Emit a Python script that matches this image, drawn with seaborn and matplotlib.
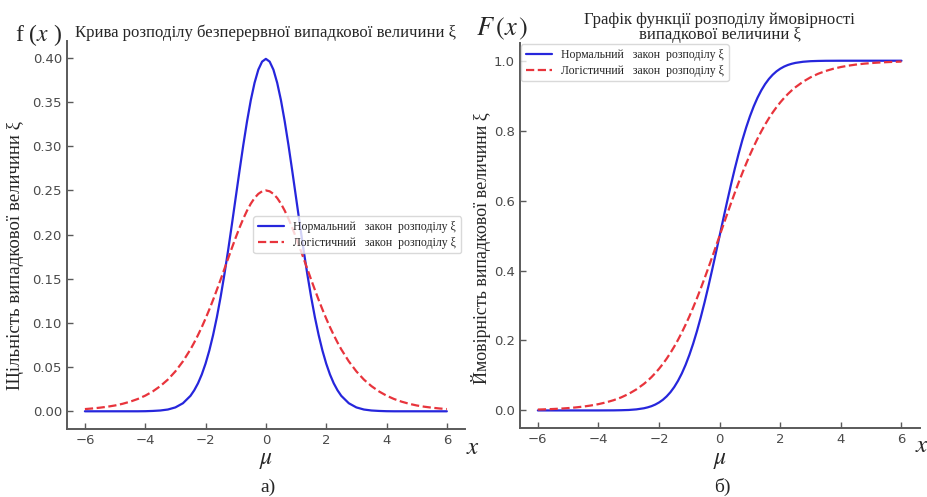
import numpy as np
import pandas as pd
import matplotlib
matplotlib.use("Agg")
import matplotlib.pyplot as plt
import seaborn as sns

# x grid: 0.25 steps in the tails, 0.125 steps in the centre
x_vals = [-6.0, -5.75, -5.5, -5.25, -5.0, -4.75, -4.5, -4.25, -4.0, -3.75, -3.5, -3.25,
          -3.0, -2.75, -2.5,
          -2.375, -2.25, -2.125, -2.0, -1.875, -1.75, -1.625, -1.5, -1.375, -1.25, -1.125,
          -1.0, -0.875, -0.75, -0.625, -0.5, -0.375, -0.25, -0.125,
          0.0,
          0.125, 0.25, 0.375, 0.5, 0.625, 0.75, 0.875, 1.0,
          1.125, 1.25, 1.375, 1.5, 1.625, 1.75, 1.875, 2.0, 2.125, 2.25, 2.375,
          2.5, 2.75, 3.0, 3.25, 3.5, 3.75, 4.0, 4.25, 4.5, 4.75, 5.0, 5.25, 5.5, 5.75, 6.0]

normal_pdf = [0.0, 0.0, 0.0, 0.0, 0.0, 0.0, 0.0, 0.0, 0.0001, 0.0004, 0.0009, 0.0020,
              0.0044, 0.0091, 0.0175,
              0.0238, 0.0317, 0.0417, 0.0540, 0.0688, 0.0863, 0.1065, 0.1295, 0.1550, 0.1826, 0.2119,
              0.2420, 0.2720, 0.3011, 0.3281, 0.3521, 0.3718, 0.3867, 0.3958,
              0.3989,
              0.3958, 0.3867, 0.3718, 0.3521, 0.3281, 0.3011, 0.2720, 0.2420,
              0.2119, 0.1826, 0.1550, 0.1295, 0.1065, 0.0863, 0.0688, 0.0540, 0.0417, 0.0317, 0.0238,
              0.0175, 0.0091, 0.0044, 0.0020, 0.0009, 0.0004, 0.0001, 0.0, 0.0, 0.0, 0.0, 0.0, 0.0, 0.0, 0.0]

logistic_pdf = [0.0025, 0.0032, 0.0041, 0.0052, 0.0066, 0.0085, 0.0109, 0.0139, 0.0177, 0.0225, 0.0285, 0.0359,
                0.0452, 0.0565, 0.0701,
                0.0779, 0.0863, 0.0953, 0.1050, 0.1153, 0.1261, 0.1375, 0.1491, 0.1611, 0.1731, 0.1850,
                0.1966, 0.2077, 0.2179, 0.2271, 0.2350, 0.2414, 0.2461, 0.2490,
                0.2500,
                0.2490, 0.2461, 0.2414, 0.2350, 0.2271, 0.2179, 0.2077, 0.1966,
                0.1850, 0.1731, 0.1611, 0.1491, 0.1375, 0.1261, 0.1153, 0.1050, 0.0953, 0.0863, 0.0779,
                0.0701, 0.0565, 0.0452, 0.0359, 0.0285, 0.0225, 0.0177, 0.0139, 0.0109, 0.0085, 0.0066,
                0.0052, 0.0041, 0.0032, 0.0025]

normal_cdf = [0.0, 0.0, 0.0, 0.0, 0.0, 0.0, 0.0, 0.0, 0.0, 0.0001, 0.0002, 0.0006,
              0.0013, 0.0030, 0.0062,
              0.0088, 0.0122, 0.0168, 0.0228, 0.0304, 0.0401, 0.0521, 0.0668, 0.0846, 0.1056, 0.1303,
              0.1587, 0.1908, 0.2266, 0.2660, 0.3085, 0.3538, 0.4013, 0.4503,
              0.5000,
              0.5497, 0.5987, 0.6462, 0.6915, 0.7340, 0.7734, 0.8092, 0.8413,
              0.8697, 0.8944, 0.9154, 0.9332, 0.9479, 0.9599, 0.9696, 0.9772, 0.9832, 0.9878, 0.9912,
              0.9938, 0.9970, 0.9987, 0.9994, 0.9998, 0.9999, 1.0, 1.0, 1.0, 1.0, 1.0, 1.0, 1.0, 1.0, 1.0]

logistic_cdf = [0.0025, 0.0032, 0.0041, 0.0052, 0.0067, 0.0086, 0.0110, 0.0141, 0.0180, 0.0230, 0.0293, 0.0373,
                0.0474, 0.0601, 0.0759,
                0.0851, 0.0953, 0.1067, 0.1192, 0.1330, 0.1480, 0.1645, 0.1824, 0.2018, 0.2227, 0.2451,
                0.2689, 0.2942, 0.3208, 0.3486, 0.3775, 0.4073, 0.4378, 0.4688,
                0.5000,
                0.5312, 0.5622, 0.5927, 0.6225, 0.6514, 0.6792, 0.7058, 0.7311,
                0.7549, 0.7773, 0.7982, 0.8176, 0.8355, 0.8520, 0.8670, 0.8808, 0.8933, 0.9047, 0.9149,
                0.9241, 0.9399, 0.9526, 0.9627, 0.9707, 0.9770, 0.9820, 0.9859, 0.9890, 0.9914, 0.9933,
                0.9948, 0.9959, 0.9968, 0.9975]

label_normal = "Нормальний   закон  розподілу ξ"
label_logistic = "Логістичний   закон  розподілу ξ"
title_left = "Крива розподілу безперервної випадкової величини ξ"
title_right = "Графік функції розподілу ймовірності\nвипадкової величини ξ"
ylabel_left = "Щільність випадкової величини ξ"
ylabel_right = "Ймовірність випадкової величини ξ"
x_ticks = [-6, -4, -2, 0, 2, 4, 6]
y_ticks_left = [0.0, 0.05, 0.10, 0.15, 0.20, 0.25, 0.30, 0.35, 0.40]
y_ticks_right = [0.0, 0.2, 0.4, 0.6, 0.8, 1.0]

sns.set_theme(style="ticks")
plt.rcParams["font.family"] = ["DejaVu Sans"]
plt.rcParams["mathtext.fontset"] = "stix"
SERIF = ["Liberation Serif", "DejaVu Serif"]

df = pd.DataFrame({"x": x_vals, "npdf": normal_pdf, "lpdf": logistic_pdf,
                   "ncdf": normal_cdf, "lcdf": logistic_cdf})

fig = plt.figure(figsize=(9.28, 4.97), dpi=100)
ax1 = fig.add_axes([0.072, 0.137, 0.429, 0.780])
ax2 = fig.add_axes([0.560, 0.139, 0.431, 0.774])

blue = "#2626dc"
red = "#e8343c"

for ax, cn, cl in [(ax1, "npdf", "lpdf"), (ax2, "ncdf", "lcdf")]:
    sns.lineplot(data=df, x="x", y=cn, ax=ax, color=blue, lw=1.6, label=label_normal)
    sns.lineplot(data=df, x="x", y=cl, ax=ax, color=red, lw=1.6, ls="--", label=label_logistic)
    sns.despine(ax=ax)
    for s in ["left", "bottom"]:
        ax.spines[s].set_color("#5a5a5a")
        ax.spines[s].set_linewidth(1.4)
    ax.tick_params(direction="in", length=4, width=1, color="#5a5a5a",
                   labelsize=9.5, labelcolor="#4a4a4a")
    ax.set_xlabel("")
    ax.set_ylabel("")
    ax.set_xticks(x_ticks)

ax1.set_yticks(y_ticks_left)
ax1.yaxis.set_major_formatter(matplotlib.ticker.FormatStrFormatter("%.2f"))
ax2.set_yticks(y_ticks_right)
ax2.yaxis.set_major_formatter(matplotlib.ticker.FormatStrFormatter("%.1f"))

ax1.set_title(title_left, family=SERIF, fontsize=12, pad=1)
ax2.set_title(title_right, family=SERIF, fontsize=12, pad=3, linespacing=0.95)

leg1 = ax1.legend(loc="upper right", bbox_to_anchor=(0.99, 0.548), borderaxespad=0,
                  prop={"family": SERIF, "size": 8.5}, handlelength=2.2, frameon=True,
                  fancybox=True, framealpha=0.8, borderpad=0.4, labelspacing=0.3)
leg2 = ax2.legend(loc="upper left", bbox_to_anchor=(0.0, 1.0), borderaxespad=0.1,
                  prop={"family": SERIF, "size": 8.5}, handlelength=2.2, frameon=True,
                  fancybox=True, framealpha=0.8, borderpad=0.4, labelspacing=0.3)
for leg in (leg1, leg2):
    leg.get_frame().set_edgecolor("#d0d0d0")

# axis annotations
fig.text(15/928, 1-35/497, "f ($x$ )", family=SERIF, fontsize=17, ha="left", va="center")
fig.text(476/928, 1-29/497, "$F\\,(x\\,)$", family=SERIF, fontsize=19, ha="left", va="center")
fig.text(16/928, 1-256/497, ylabel_left, family=SERIF, fontsize=13.5, rotation=90, ha="center", va="center")
fig.text(481/928, 1-248/497, ylabel_right, family=SERIF, fontsize=13, rotation=90, ha="center", va="center")
fig.text(266/928, 1-459/497, "$\\mu$", fontsize=17, ha="center", va="center")
fig.text(720/928, 1-459/497, "$\\mu$", fontsize=17, ha="center", va="center")
fig.text(473/928, 1-447/497, "$x$", fontsize=18, ha="center", va="center")
fig.text(922/928, 1-445/497, "$x$", fontsize=18, ha="center", va="center")
fig.text(268/928, 1-487/497, "а)", family=SERIF, fontsize=14, ha="center", va="center")
fig.text(722/928, 1-487/497, "б)", family=SERIF, fontsize=14, ha="center", va="center")

fig.savefig("out.png", dpi=100)
